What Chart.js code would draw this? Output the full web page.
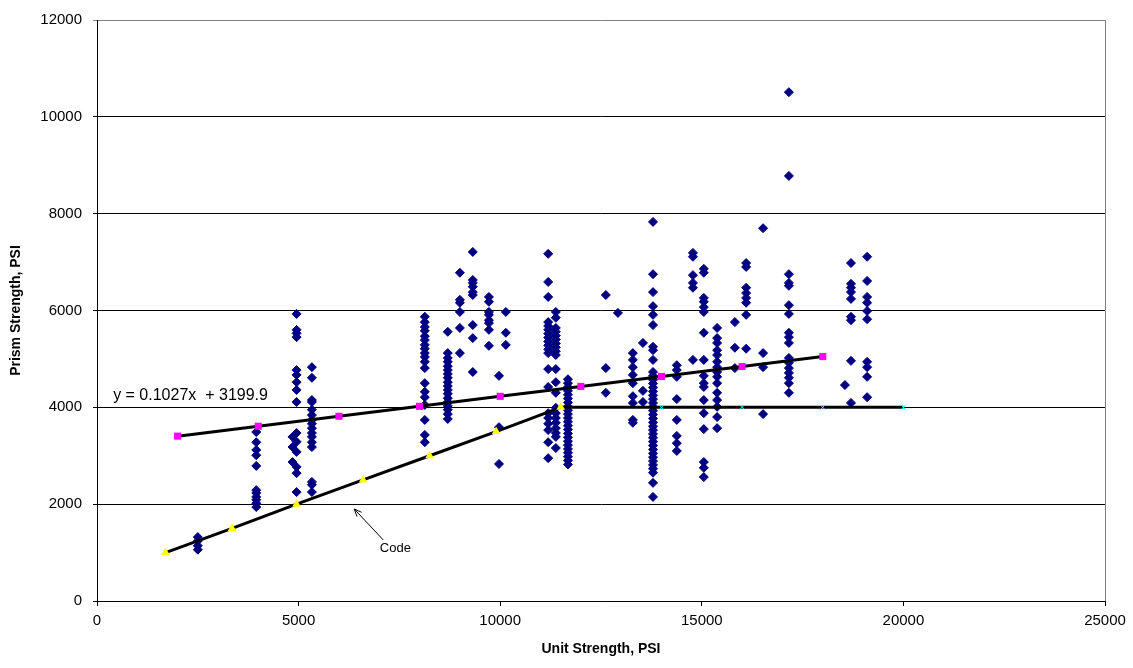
<!DOCTYPE html>
<html>
<head>
<meta charset="utf-8">
<script src="https://cdn.jsdelivr.net/npm/chart.js@4.4.1/dist/chart.umd.min.js"></script>
<style>
  body { margin: 0; background: #fff; }
  canvas { display: block; }
</style>
</head>
<body>
<canvas id="prismChart" width="1133" height="668"></canvas>
<script>
// test results, one column of prism strengths per unit strength
const testUnitStrength = [
    2500, 3950, 4850, 4950, 5330,
    8130, 8700, 9000, 9320, 9720, 9970, 10140,
    11190, 11380, 11680, 12620, 12920, 13290, 13540, 13790,
    14380, 14780, 15050, 15380, 15820, 16100, 16520, 17160,
    18550, 18700, 19100
];

const testPrismStrength = [
    [1320, 1240, 1140, 1060],
    [3490, 3280, 3120, 3010, 2790, 2290, 2230, 2150, 2090, 2020, 1940],
    [3390, 3180, 2870],
    [5930, 5600, 5530, 5450, 4770, 4670, 4520, 4360, 4110, 3470, 3290, 3080, 2770, 2640, 2250],
    [4830, 4610, 4150, 4110, 3950, 3840, 3740, 3660, 3570, 3470, 3390, 3280, 3180, 2460, 2400, 2250],
    [5870, 5760, 5660, 5580, 5470, 5390, 5290, 5210, 5120, 5040, 4940, 4810, 4500, 4320, 4210, 4050, 3740, 3430, 3280],
    [5560, 5120, 5020, 4940, 4850, 4770, 4690, 4610, 4520, 4440, 4360, 4280, 4190, 4110, 4030, 3950, 3860, 3760],
    [6780, 6220, 6160, 5970, 5640, 5120],
    [7210, 6630, 6570, 6490, 6380, 6320, 5700, 5430, 4730],
    [6280, 6180, 5970, 5910, 5800, 5740, 5600, 5270],
    [4650, 3590, 2830],
    [5970, 5540, 5290],
    [7170, 6590, 6280, 5760, 5680, 5600, 5520, 5440, 5360, 5280, 5200, 5120, 4790, 4420, 3880, 3780, 3660, 3530, 3280, 2950],
    [5970, 5850, 5640, 5560, 5480, 5400, 5320, 5240, 5160, 5080, 4790, 4520, 4300, 3990, 3880, 3780, 3680, 3570, 3470, 3390, 3160],
    [4580, 4500, 4420, 4340, 4260, 4180, 4100, 4020, 3940, 3860, 3780, 3700, 3620, 3540, 3460, 3380, 3300, 3220, 3140, 3060, 2980, 2900, 2820],
    [6320, 4810, 4300],
    [5950],
    [5120, 4980, 4830, 4670, 4500, 4230, 4090, 3740, 3680],
    [5330, 4340, 4110],
    [7830, 6750, 6380, 6090, 5910, 5700, 5250, 5180, 4980, 4730, 4650, 4570, 4490, 4410, 4330, 4250, 4170, 4090, 4010, 3930,
     3850, 3770, 3690, 3610, 3530, 3450, 3370, 3290, 3210, 3130, 3050, 2970, 2890, 2810, 2730, 2650, 2440, 2150],
    [4870, 4770, 4630, 4170, 3740, 3410, 3260, 3100],
    [7190, 7110, 6730, 6570, 6470, 4980],
    [6860, 6780, 6260, 6180, 6070, 5970, 5540, 4980, 4650, 4500, 4420, 4150, 3880, 3550, 2870, 2750, 2560],
    [5640, 5430, 5330, 5180, 5080, 4940, 4830, 4730, 4630, 4500, 4300, 4150, 4010, 3800, 3570],
    [5760, 5230, 4810],
    [6980, 6900, 6470, 6360, 6260, 6160, 5910, 5210],
    [7700, 5120, 4830, 3860],
    [10510, 8780, 6750, 6570, 6510, 6110, 5930, 5540, 5450, 5330, 5020, 4920, 4810, 4710, 4610, 4500, 4300],
    [4460],
    [6980, 6550, 6470, 6380, 6240, 5870, 5800, 4960, 4090],
    [7110, 6610, 6280, 6160, 5990, 5820, 4940, 4830, 4630, 4210]
];

// linear fit
const trendUnit = [2000, 4000, 6000, 8000, 10000, 12000, 14000, 16000, 18000];
const trendPrism = [3405, 3610, 3816, 4021, 4227, 4432, 4638, 4843, 5048];

// code values (yellow part rises, cyan part is the 4000 cap)
const codeUnit = [1700, 3350, 4950, 6600, 8250, 9900, 11500];
const codePrism = [1000, 1500, 2000, 2500, 3000, 3500, 4000];
const capUnit = [11500, 14000, 16000, 18000, 20000];
const capPrism = [4000, 4000, 4000, 4000, 4000];

const xTicks = [0, 5000, 10000, 15000, 20000, 25000];
const yTicks = [0, 2000, 4000, 6000, 8000, 10000, 12000];

const equationText = "y = 0.1027x  + 3199.9";
const equationAt = [400, 4240];
const codeLabel = "Code";
const codeLabelAt = [7400, 1090];
const arrowFrom = [7100, 1260];
const arrowTo = [6380, 1900];

const FONT = "'Liberation Sans', Arial, sans-serif";

function toPoints(xs, ys) {
    return xs.map((x, i) => ({ x: x, y: ys[i] }));
}

const testPoints = [];
testUnitStrength.forEach((x, i) => {
    testPrismStrength[i].forEach(y => testPoints.push({ x: x, y: y }));
});

const annotations = {
    id: "annotations",
    beforeDatasetsDraw(chart) {
        const { ctx, chartArea } = chart;
        ctx.save();
        ctx.strokeStyle = "#808080";
        ctx.lineWidth = 1;
        ctx.beginPath();
        ctx.moveTo(Math.round(chartArea.right) + 0.5, chartArea.top);
        ctx.lineTo(Math.round(chartArea.right) + 0.5, chartArea.bottom);
        ctx.stroke();
        ctx.restore();
    },
    afterDatasetsDraw(chart) {
        const { ctx, scales: { x, y } } = chart;
        ctx.save();
        ctx.fillStyle = "#000";
        ctx.textBaseline = "middle";
        ctx.font = "16px " + FONT;
        ctx.textAlign = "left";
        ctx.fillText(equationText, x.getPixelForValue(equationAt[0]), y.getPixelForValue(equationAt[1]));

        ctx.font = "13px " + FONT;
        ctx.textAlign = "center";
        ctx.fillText(codeLabel, x.getPixelForValue(codeLabelAt[0]), y.getPixelForValue(codeLabelAt[1]));

        const x0 = x.getPixelForValue(arrowFrom[0]), y0 = y.getPixelForValue(arrowFrom[1]);
        const x1 = x.getPixelForValue(arrowTo[0]), y1 = y.getPixelForValue(arrowTo[1]);
        const a = Math.atan2(y1 - y0, x1 - x0);
        ctx.strokeStyle = "#000";
        ctx.lineWidth = 1;
        ctx.beginPath();
        ctx.moveTo(x0, y0);
        ctx.lineTo(x1, y1);
        ctx.moveTo(x1 - 8 * Math.cos(a - 0.4), y1 - 8 * Math.sin(a - 0.4));
        ctx.lineTo(x1, y1);
        ctx.lineTo(x1 - 8 * Math.cos(a + 0.4), y1 - 8 * Math.sin(a + 0.4));
        ctx.stroke();
        ctx.restore();
    }
};

new Chart(document.getElementById("prismChart"), {
    type: "scatter",
    data: {
        datasets: [
            {
                label: "Trend",
                data: toPoints(trendUnit, trendPrism),
                showLine: true,
                borderColor: "#000",
                borderWidth: 3,
                pointStyle: "rect",
                pointRadius: 5,
                pointBackgroundColor: "#ff00ff",
                pointBorderColor: "#ff00ff",
                pointBorderWidth: 0,
                order: 1
            },
            {
                label: "Code",
                data: toPoints(codeUnit, codePrism),
                showLine: true,
                borderColor: "#000",
                borderWidth: 3,
                pointStyle: "triangle",
                pointRadius: 5,
                pointBackgroundColor: "#ffff00",
                pointBorderColor: "#ffff00",
                pointBorderWidth: 0,
                order: 2
            },
            {
                label: "Code cap",
                data: toPoints(capUnit, capPrism),
                showLine: true,
                borderColor: "#000",
                borderWidth: 3,
                pointStyle: "crossRot",
                pointRadius: 3,
                pointBorderColor: "#00ffff",
                pointBorderWidth: 1,
                order: 2
            },
            {
                label: "Tests",
                data: testPoints,
                pointStyle: "rectRot",
                pointRadius: 4.5,
                pointBackgroundColor: "#000080",
                pointBorderColor: "#000080",
                pointBorderWidth: 1,
                order: 10
            }
        ]
    },
    options: {
        responsive: false,
        animation: false,
        layout: {
            padding: { top: 20, right: 28, bottom: 0, left: 0 }
        },
        plugins: {
            legend: { display: false },
            tooltip: { enabled: false }
        },
        scales: {
            x: {
                type: "linear",
                min: 0,
                max: 25000,
                afterBuildTicks: axis => { axis.ticks = xTicks.map(v => ({ value: v })); },
                afterFit: axis => { axis.height = 67; },
                grid: {
                    drawOnChartArea: false,
                    color: "#000",
                    tickLength: 5
                },
                border: { color: "#000", width: 1 },
                ticks: {
                    color: "#000",
                    padding: 6,
                    maxRotation: 0,
                    callback: v => String(v),
                    font: { family: FONT, size: 15 }
                },
                title: {
                    display: true,
                    text: "Unit Strength, PSI",
                    color: "#000",
                    padding: { top: 0, bottom: 10 },
                    font: { family: FONT, size: 14, weight: "bold" }
                }
            },
            y: {
                type: "linear",
                min: 0,
                max: 12000,
                afterBuildTicks: axis => { axis.ticks = yTicks.map(v => ({ value: v })); },
                afterFit: axis => { axis.width = 97; },
                grid: {
                    color: ctx => (ctx.tick && ctx.tick.value === 12000 ? "#808080" : "#000"),
                    tickLength: 4
                },
                border: { color: "#000", width: 1 },
                ticks: {
                    color: "#000",
                    padding: 11,
                    callback: v => String(v),
                    font: { family: FONT, size: 15 }
                },
                title: {
                    display: true,
                    text: "Prism Strength, PSI",
                    color: "#000",
                    padding: { top: 8, bottom: 0 },
                    font: { family: FONT, size: 14, weight: "bold" }
                }
            }
        }
    },
    plugins: [annotations]
});
</script>
</body>
</html>
